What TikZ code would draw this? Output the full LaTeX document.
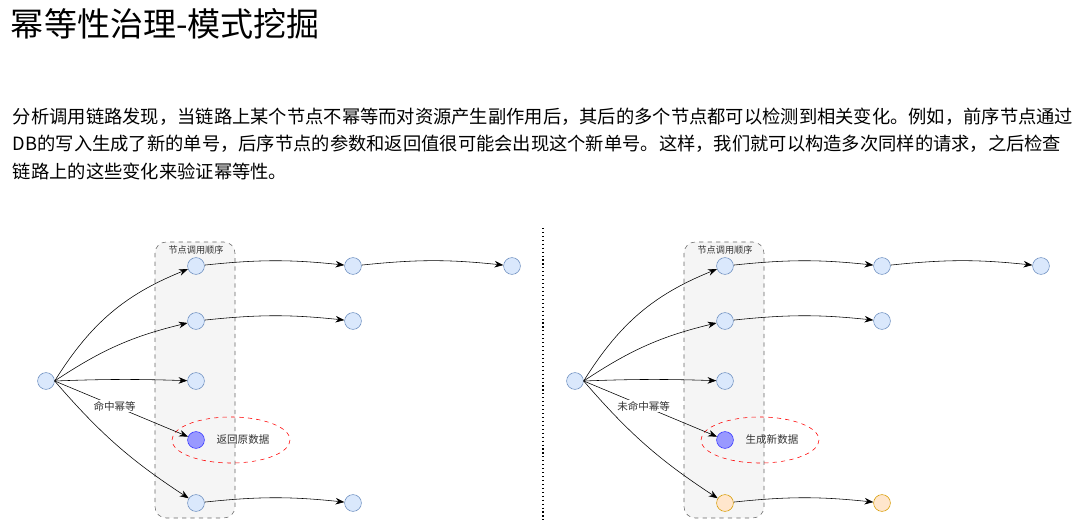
\documentclass[tikz,border=0pt]{standalone}
\usepackage{fontspec}
\setmainfont{Noto Sans CJK SC}
\usetikzlibrary{arrows.meta}
\definecolor{nodefill}{HTML}{DAE8FC}
\definecolor{nodeline}{HTML}{6C8EBF}
\definecolor{hitfill}{HTML}{9999FF}
\definecolor{hitline}{HTML}{3333FF}
\definecolor{newfill}{HTML}{FFE6CC}
\definecolor{newline}{HTML}{D79B00}
\tikzset{
  call/.style={circle,draw=nodeline,fill=nodefill,minimum size=0.42cm,inner sep=0pt},
  hit/.style={call,draw=hitline,fill=hitfill},
  fresh/.style={call,draw=newline,fill=newfill},
  flow/.style={-{Stealth[length=2.2mm]},black,thin},
  small/.style={font=\fontsize{6.5}{7}\selectfont,text=black!80},
  label/.style={font=\fontsize{7.5}{8}\selectfont,text=black!80},
  para/.style={anchor=west,font=\fontsize{13}{15}\selectfont},
}
\begin{document}
\begin{tikzpicture}[x=0.025cm,y=-0.025cm]
                \useasboundingbox (0,0) rectangle (1080,530);
                \node[anchor=west,font=\fontsize{23.5}{26}\selectfont] (title) at (6,24) {幂等性治理-模式挖掘};
                \node[para] (p1) at (8,117) {分析调用链路发现，当链路上某个节点不幂等而对资源产生副作用后，其后的多个节点都可以检测到相关变化。例如，前序节点通过};
                \node[para] (p2) at (8,144) {DB的写入生成了新的单号，后序节点的参数和返回值很可能会出现这个新单号。这样，我们就可以构造多次同样的请求，之后检查};
                \node[para] (p3) at (8,171) {链路上的这些变化来验证幂等性。};
                \draw[dotted,thick] (543,228) -- (543,520);
                % two call chains, side by side
                \foreach \dx/\side/\laststy/\edge/\note in {0/L/call/命中幂等/返回原数据,529/R/fresh/未命中幂等/生成新数据} {
                  \fill[black!4,rounded corners=8] (155+\dx,242) rectangle (235+\dx,518);
                  \draw[black!60,dashed,rounded corners=8] (155+\dx,242) rectangle (235+\dx,518);
                  \node[small] (order\side) at (196+\dx,250) {节点调用顺序};
                  \draw[red,dashed] (231+\dx,440) ellipse (59 and 23);
                  \node[call] (root\side) at (46+\dx,381) {};
                  \node[call] (a\side) at (196+\dx,266) {};
                  \node[call] (b\side) at (196+\dx,321) {};
                  \node[call] (c\side) at (196+\dx,381) {};
                  \node[hit] (d\side) at (196+\dx,440) {};
                  \node[\laststy] (e\side) at (196+\dx,503) {};
                  \node[call] (aa\side) at (353+\dx,266) {};
                  \node[call] (aaa\side) at (512+\dx,266) {};
                  \node[call] (bb\side) at (353+\dx,321) {};
                  \node[\laststy] (ee\side) at (353+\dx,503) {};
                  \node[label] (text\side) at (243+\dx,440) {\note};
                  \draw[flow] (root\side.east) to[bend left=18] (a\side);
                  \draw[flow] (root\side.east) to[bend left=10] (b\side);
                  \draw[flow] (root\side.east) to[bend left=2] (c\side);
                  \draw[flow] (root\side.east) -- node[fill=white,inner sep=1pt,label,pos=0.45] {\edge} (d\side);
                  \draw[flow] (root\side.east) to[bend right=8] (e\side);
                  \draw[flow] (a\side) to[bend left=6] (aa\side);
                  \draw[flow] (aa\side) to[bend left=6] (aaa\side);
                  \draw[flow] (b\side) to[bend left=6] (bb\side);
                  \draw[flow] (e\side) to[bend left=6] (ee\side);
                }
\end{tikzpicture}
\end{document}
